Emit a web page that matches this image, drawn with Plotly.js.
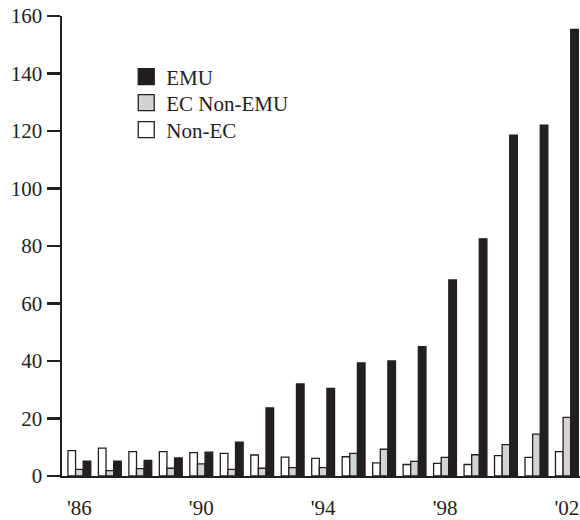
<!DOCTYPE html>
<html>
<head>
<meta charset="utf-8">
<script src="https://cdn.plot.ly/plotly-3.0.1.min.js"></script>
<style>html,body{margin:0;padding:0;background:#fff;}#chart{width:580px;height:520px;}</style>
</head>
<body>
<div id="chart"></div>
<script>
const years = [1986,1987,1988,1989,1990,1991,1992,1993,1994,1995,1996,1997,1998,1999,2000,2001,2002];
const nonEC = [8.8,9.7,8.5,8.5,8.1,7.9,7.3,6.6,6.1,6.7,4.6,4.0,4.4,4.0,7.1,6.5,8.5];
const ecNonEMU = [2.3,1.9,2.6,2.7,4.2,2.3,2.7,2.9,2.9,7.9,9.3,5.1,6.5,7.4,10.9,14.6,20.4];
const emu = [5.2,5.2,5.4,6.3,8.3,11.8,23.7,32.0,30.5,39.3,40.0,45.0,68.2,82.5,118.6,122.0,155.3];
const tickYears = [1986,1990,1994,1998,2002];
const tickLabels = ["'86","'90","'94","'98","'02"];

const font = "Liberation Serif, Times New Roman, serif";
const lineC = '#231f20';
const grayC = '#d2d3d5';

const traces = [
  {type:'bar', name:'Non-EC', x:years, y:nonEC, marker:{color:'#ffffff', line:{color:lineC, width:1.3}}, showlegend:false},
  {type:'bar', name:'EC Non-EMU', x:years, y:ecNonEMU, marker:{color:grayC, line:{color:lineC, width:1.3}}, showlegend:false},
  {type:'bar', name:'EMU', x:years, y:emu, marker:{color:lineC, line:{color:lineC, width:1.3}}, showlegend:false},
  // legend-only entries
  {type:'scatter', mode:'markers', name:'EMU', legend:'legend', x:[null], y:[null], marker:{symbol:'square', size:16, color:lineC, line:{color:lineC, width:1.3}}},
  {type:'scatter', mode:'markers', name:'EC Non-EMU', legend:'legend2', x:[null], y:[null], marker:{symbol:'square', size:16, color:grayC, line:{color:lineC, width:1.3}}},
  {type:'scatter', mode:'markers', name:'Non-EC', legend:'legend3', x:[null], y:[null], marker:{symbol:'square', size:16, color:'#ffffff', line:{color:lineC, width:1.3}}}
];

function leg(y){
  return {x:0.124, y:y, xanchor:'left', yanchor:'middle', font:{family:font, size:21, color:lineC}, bgcolor:'rgba(0,0,0,0)', itemsizing:'trace'};
}

const layout = {
  width:580, height:520,
  margin:{l:62, r:0, t:16, b:44},
  paper_bgcolor:'#fff', plot_bgcolor:'#fff',
  font:{family:font, size:21, color:lineC},
  barmode:'group', bargap:0.25, bargroupgap:0,
  showlegend:true,
  legend:leg(0.8674),
  legend2:leg(0.8109),
  legend3:leg(0.7522),
  xaxis:{range:[1985.43, 2002.43], tickvals:tickYears, ticktext:tickLabels, showgrid:false, zeroline:false, showline:true, linecolor:lineC, linewidth:2, ticks:'', ticklabelstandoff:12, tickfont:{family:font, size:21, color:lineC}, fixedrange:true},
  yaxis:{range:[0,160], dtick:20, showgrid:false, zeroline:false, showline:true, linecolor:lineC, linewidth:2.5, ticks:'outside', ticklen:13, tickwidth:2.5, tickcolor:lineC, tickfont:{family:font, size:21, color:lineC}, fixedrange:true}
};

Plotly.newPlot('chart', traces, layout, {displayModeBar:false, staticPlot:true});
</script>
</body>
</html>
